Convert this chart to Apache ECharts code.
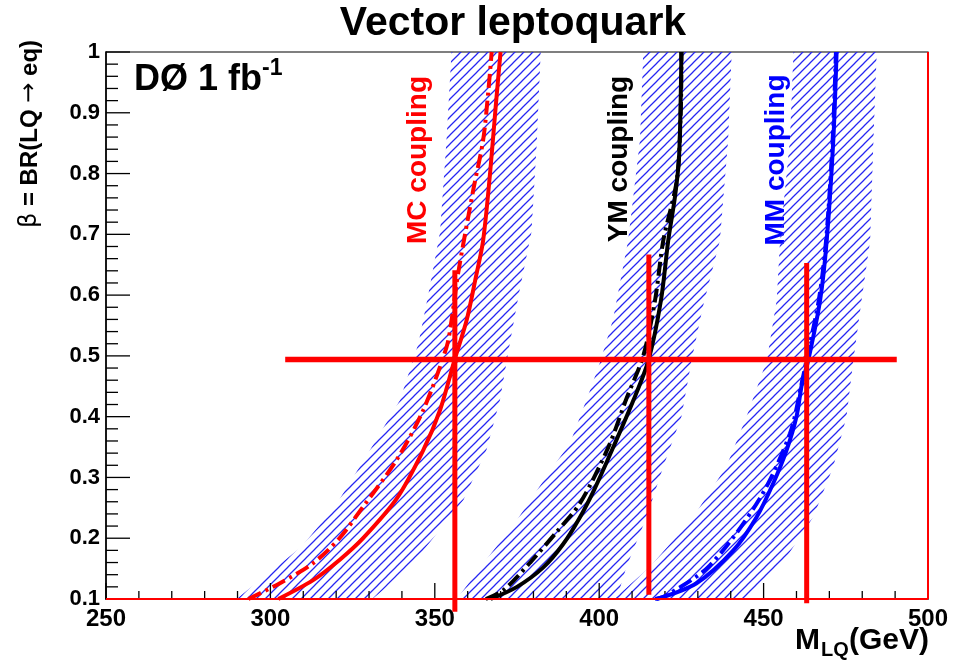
<!DOCTYPE html>
<html><head><meta charset="utf-8">
<script src="https://cdn.jsdelivr.net/npm/echarts@6/dist/echarts.min.js"></script>
<style>html,body{margin:0;padding:0;background:#fff}#c{width:965px;height:662px}</style>
</head><body><div id="c"></div>
<script>
// ---- data: [M_LQ (GeV), beta] ----
const mcSolid = [[302.4,0.1],[313,0.131],[321.2,0.165],[328.2,0.2],[338.4,0.265],[346.5,0.345],[351.6,0.411],[356.1,0.495],[359.7,0.559],[362.5,0.63],[364.7,0.69],[366.8,0.80],[368.5,0.909],[370,1.0]];
const mcDashDot = [[293.3,0.1],[302.9,0.126],[313,0.159],[321,0.2],[328.2,0.252],[338.4,0.329],[346.5,0.411],[353.6,0.515],[355.1,0.559],[357.1,0.636],[361.7,0.773],[364.7,0.855],[366.3,0.937],[367.3,1.0]];
const ymSolid = [[367,0.1],[375,0.12],[383,0.152],[389,0.19],[394.2,0.235],[398.5,0.28],[404.3,0.35],[410.4,0.427],[415,0.493],[418.8,0.592],[421,0.69],[423,0.76],[424.3,0.828],[425,1.0]];
const ymDashDot = [[365.5,0.1],[371,0.115],[379,0.16],[387,0.21],[394.2,0.258],[402.8,0.35],[408.3,0.43],[413.4,0.5],[417,0.592],[419.5,0.69],[423.6,0.789],[424.8,0.9],[425,1.0]];
const mmSolid = [[417.5,0.1],[429.6,0.126],[440.8,0.18],[447.9,0.235],[452.9,0.29],[457,0.345],[460,0.4],[461.7,0.455],[463.6,0.493],[467.2,0.592],[469.2,0.69],[471.2,0.855],[472.2,1.0]];
const mmDashDot = [[417,0.1],[420.5,0.106],[433.6,0.155],[448.8,0.265],[458,0.372],[461.6,0.455],[463.3,0.5],[466.8,0.592],[469,0.69],[471,0.855],[472,1.0]];

const mcBandLeft  = [[289.7,0.1],[300,0.145],[309.5,0.186],[320,0.255],[330.3,0.345],[339.4,0.427],[345,0.52],[348,0.6],[351.6,0.704],[353.5,0.85],[355.1,1.0]];
const mcBandRight = [[331,0.1],[334.3,0.115],[346.5,0.18],[358.7,0.263],[365.7,0.345],[369.8,0.427],[372.8,0.52],[375.5,0.6],[379.4,0.704],[381,0.85],[382.2,1.0]];
const ymBandLeft  = [[356.7,0.1],[365,0.16],[375,0.23],[385,0.31],[391.1,0.356],[397,0.44],[400.3,0.49],[404.2,0.56],[408.8,0.69],[412.4,0.855],[413.4,1.0]];
const ymBandRight = [[405.3,0.1],[408.3,0.153],[414.4,0.235],[419.5,0.318],[425,0.4],[428.1,0.493],[431.5,0.58],[436.7,0.69],[439.2,0.855],[440.3,1.0]];
const mmBandLeft  = [[403,0.1],[405.3,0.104],[415.5,0.153],[428.6,0.235],[438.7,0.318],[444.8,0.4],[451,0.493],[454,0.592],[455,0.69],[458,0.855],[459.1,1.0]];
const mmBandRight = [[444.5,0.1],[445.9,0.104],[455,0.153],[465.1,0.235],[471.2,0.318],[475.2,0.4],[477.3,0.493],[479.8,0.592],[482.4,0.69],[483.4,0.855],[484.4,1.0]];

const limitHorizontal = [[304.5,0.494],[490.5,0.494]];
const limitMC = [[356.1,0.079],[356.1,0.641]];
const limitYM = [[415.1,0.107],[415.1,0.667]];
const limitMM = [[463.1,0.093],[463.1,0.653]];
const frameBottom = [[250,0.1],[500,0.1]];
const frameRight = [[500,0.1],[500,1.0]];

const xTicks = {min:250, max:500, step:50, minorPerMajor:5};
const yTicks = {min:0.1, max:1.0, step:0.1, minorPerMajor:5};

// ---- hatch pattern ----
function makeHatch(){
  const p = 9;
  const c = document.createElement('canvas'); c.width = p; c.height = p;
  const g = c.getContext('2d');
  g.strokeStyle = '#2626f2'; g.lineWidth = 1.25;
  g.beginPath();
  g.moveTo(0,p); g.lineTo(p,0);
  g.moveTo(-3,3); g.lineTo(3,-3);
  g.moveTo(p-3,p+3); g.lineTo(p+3,p-3);
  g.stroke();
  return c;
}
const hatch = {image: makeHatch(), repeat: 'repeat'};

function bandSeries(left, right){
  const pts = left.concat(right.slice().reverse());
  return {
    type: 'custom', z: 1, clip: true, silent: true,
    data: [0],
    renderItem: function(params, api){
      const points = pts.map(p => api.coord(p));
      return {type:'polygon', shape:{points: points}, style:{fill: hatch, stroke: null}};
    }
  };
}
// axis ticks drawn inside the frame (ROOT style), from the axis scale
function tickSeries(){
  return {
    type:'custom', z: 2, clip:false, silent:true, data:[0],
    renderItem: function(params, api){
      const kids = [];
      const sx = xTicks.step / xTicks.minorPerMajor;
      const nx = Math.round((xTicks.max - xTicks.min) / sx);
      for (let i = 0; i <= nx; i++){
        const v = xTicks.min + i * sx;
        const p = api.coord([v, yTicks.min]);
        const len = (i % xTicks.minorPerMajor === 0) ? 16 : 8;
        kids.push({type:'line', shape:{x1:p[0], y1:p[1], x2:p[0], y2:p[1]-len}, style:{stroke:'#000', lineWidth:1.3}});
      }
      const sy = yTicks.step / yTicks.minorPerMajor;
      const ny = Math.round((yTicks.max - yTicks.min) / sy);
      for (let i = 0; i <= ny; i++){
        const v = yTicks.min + i * sy;
        const p = api.coord([xTicks.min, v]);
        const len = (i % yTicks.minorPerMajor === 0) ? 24 : 12;
        kids.push({type:'line', shape:{x1:p[0], y1:p[1], x2:p[0]+len, y2:p[1]}, style:{stroke:'#000', lineWidth:1.3}});
      }
      return {type:'group', children:kids};
    }
  };
}
function curve(data, color, dash){
  return {type:'line', data:data, showSymbol:false, smooth:0.3, z:3, silent:true,
    lineStyle:{color:color, width:4, type: dash ? [14,5,3,5] : 'solid'}};
}
function redLine(data, w){
  return {type:'line', data:data, showSymbol:false, z:5, silent:true, clip:false,
    lineStyle:{color:'#ff0000', width:w, cap:'butt'}};
}

const FF = '"Liberation Sans", Arial, Helvetica, sans-serif';
const SYM = '"DejaVu Sans", sans-serif';
const chart = echarts.init(document.getElementById('c'), null, {renderer:'canvas'});
chart.setOption({
  animation: false,
  backgroundColor: '#ffffff',
  grid: {left:106, top:52, right:37, bottom:63, show:true, borderColor:'#000', borderWidth:1.2, backgroundColor:'transparent'},
  xAxis: {
    type:'value', min:xTicks.min, max:xTicks.max, interval:xTicks.step,
    axisLine:{show:true, lineStyle:{color:'#000', width:1.5}},
    axisTick:{show:false}, minorTick:{show:false},
    splitLine:{show:false},
    axisLabel:{color:'#000', fontFamily:FF, fontWeight:'bold', fontSize:24, margin:8}
  },
  yAxis: {
    type:'value', min:yTicks.min, max:yTicks.max, interval:yTicks.step,
    axisLine:{show:true, lineStyle:{color:'#000', width:1.5}},
    axisTick:{show:false}, minorTick:{show:false},
    splitLine:{show:false},
    axisLabel:{color:'#000', fontFamily:FF, fontWeight:'bold', fontSize:22, margin:6,
      formatter: v => (Math.abs(v-1)<1e-9 ? '1' : v.toFixed(1))}
  },
  series: [
    bandSeries(mcBandLeft, mcBandRight),
    bandSeries(ymBandLeft, ymBandRight),
    bandSeries(mmBandLeft, mmBandRight),
    tickSeries(),
    curve(mcDashDot, '#ff0000', true),
    curve(mcSolid, '#ff0000', false),
    curve(ymDashDot, '#000000', true),
    curve(ymSolid, '#000000', false),
    curve(mmDashDot, '#0000ff', true),
    curve(mmSolid, '#0000ff', false),
    redLine(frameBottom, 2),
    redLine(frameRight, 2),
    redLine(limitHorizontal, 5.5),
    redLine(limitMC, 5),
    redLine(limitYM, 5),
    redLine(limitMM, 5)
  ],
  graphic: [
    {type:'text', x:513, y:24, style:{text:'Vector leptoquark', font:'bold 41px '+FF, fill:'#000', align:'center', verticalAlign:'middle'}},
    {type:'text', x:134, y:80, style:{text:'DØ 1 fb', font:'bold 36px '+FF, fill:'#000', verticalAlign:'middle'}},
    {type:'text', x:262, y:69, style:{text:'-1', font:'bold 23px '+FF, fill:'#000', verticalAlign:'middle'}},
    {type:'text', x:418, y:160, rotation:Math.PI/2, style:{text:'MC coupling', font:'bold 28px '+FF, fill:'#ff0000', align:'center', verticalAlign:'middle'}},
    {type:'text', x:619, y:159, rotation:Math.PI/2, style:{text:'YM coupling', font:'bold 28px '+FF, fill:'#000000', align:'center', verticalAlign:'middle'}},
    {type:'text', x:776, y:160, rotation:Math.PI/2, style:{text:'MM coupling', font:'bold 28px '+FF, fill:'#0000ff', align:'center', verticalAlign:'middle'}},
    {type:'text', x:30, y:134, rotation:Math.PI/2, style:{
      text:'{s|β} = BR(LQ {s|→} eq)', font:'bold 24px '+FF, fill:'#000', align:'center', verticalAlign:'middle',
      rich:{s:{font:'normal 24px '+SYM, fill:'#000'}}}},
    {type:'text', x:795, y:641, style:{text:'M', font:'bold 30px '+FF, fill:'#000', verticalAlign:'middle'}},
    {type:'text', x:821, y:650, style:{text:'LQ', font:'bold 20px '+FF, fill:'#000', verticalAlign:'middle'}},
    {type:'text', x:849, y:641, style:{text:'(GeV)', font:'bold 30px '+FF, fill:'#000', verticalAlign:'middle'}}
  ]
});
</script>
</body></html>
